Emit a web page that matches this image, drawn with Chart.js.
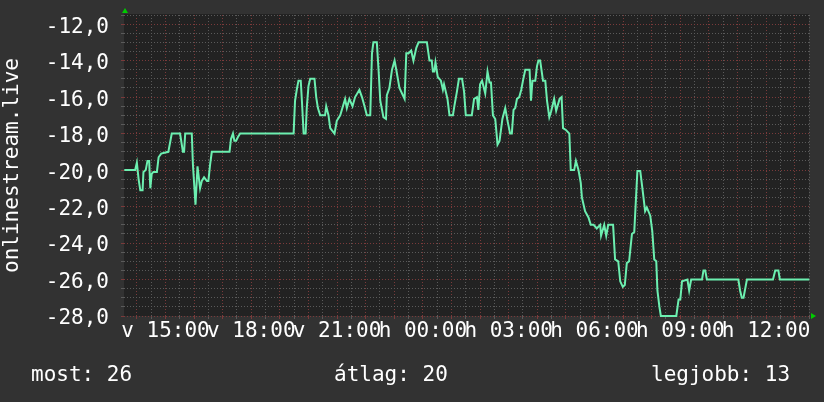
<!DOCTYPE html>
<html>
<head>
<meta charset="utf-8">
<script src="https://cdn.jsdelivr.net/npm/chart.js@4/dist/chart.umd.min.js"></script>
<style>
html, body { margin: 0; padding: 0; background: #323232; }
#wrap { position: relative; width: 824px; height: 402px; }
.stat { position: absolute; top: 364px; font: 21px/21px "DejaVu Sans Mono", monospace; color: #fff; white-space: pre; }
</style>
</head>
<body>
<div id="wrap">
  <canvas id="rank-chart" width="824" height="402"></canvas>
  <div class="stat" style="left:31px">most: 26</div>
  <div class="stat" style="left:334px">átlag: 20</div>
  <div class="stat" style="left:651px">legjobb: 13</div>
</div>
<script>
// Time is in hours counted from Sunday 00:00 (24 = Monday 00:00)
var times = [
  13.56, 13.94, 14.00, 14.06, 14.12, 14.20, 14.23, 14.31, 14.37, 14.43,
  14.47, 14.52, 14.58, 14.70, 14.76, 14.85, 15.10, 15.16, 15.22, 15.51,
  15.61, 15.65, 15.69, 15.92, 15.96, 16.05, 16.12, 16.21, 16.27, 16.35,
  16.45, 16.50, 16.56, 16.62, 17.24, 17.29, 17.36, 17.41, 17.47, 17.53,
  17.61, 19.48, 19.53, 19.59, 19.65, 19.73, 19.77, 19.83, 19.90, 19.94,
  20.00, 20.06, 20.21, 20.27, 20.33, 20.41, 20.58, 20.62, 20.70, 20.76,
  20.91, 20.99, 21.11, 21.28, 21.34, 21.43, 21.54, 21.63, 21.78, 21.87,
  21.96, 22.04, 22.16, 22.22, 22.27, 22.39, 22.45, 22.51, 22.62, 22.71,
  22.74, 22.83, 22.92, 23.01, 23.07, 23.18, 23.36, 23.42, 23.50, 23.59,
  23.67, 23.77, 23.85, 24.14, 24.23, 24.31, 24.35, 24.40, 24.44, 24.52,
  24.63, 24.70, 24.74, 24.86, 24.93, 25.05, 25.10, 25.19, 25.26, 25.37,
  25.44, 25.50, 25.71, 25.79, 25.89, 25.94, 26.00, 26.07, 26.18, 26.26,
  26.33, 26.38, 26.45, 26.53, 26.61, 26.68, 26.78, 26.88, 26.96, 27.05,
  27.11, 27.17, 27.23, 27.29, 27.37, 27.44, 27.50, 27.58, 27.73, 27.78,
  27.83, 27.93, 27.99, 28.04, 28.10, 28.20, 28.28, 28.34, 28.42, 28.48,
  28.59, 28.66, 28.78, 28.85, 28.90, 29.00, 29.12, 29.17, 29.29, 29.35,
  29.44, 29.52, 29.56, 29.67, 29.79, 29.87, 29.97, 30.08, 30.20, 30.23,
  30.34, 30.41, 30.48, 30.65, 30.72, 30.83, 30.90, 30.99, 31.06, 31.13,
  31.21, 31.31, 31.39, 31.50, 31.60, 31.69, 31.77, 31.83, 31.95, 32.02,
  32.09, 32.16, 32.20, 32.27, 32.32, 32.86, 32.94, 33.00, 33.06, 33.25,
  33.31, 33.38, 33.76, 33.81, 33.87, 33.93, 35.03, 35.09, 35.15, 35.21,
  35.33, 36.24, 36.32, 36.43, 36.48, 37.51
]
var ranks = [
  -20, -20, -19.6, -20.5, -21.1, -21.1, -20.1, -20, -19.5, -19.5,
  -21, -20.2, -20.1, -20.1, -19.3, -19.1, -19, -18.5, -18, -18,
  -19, -19, -18, -18, -19.7, -21.9, -19.8, -21, -20.6, -20.4,
  -20.6, -20.6, -19.7, -19, -19, -18.3, -18, -18.4, -18.4, -18.2,
  -18, -18, -16.2, -15.6, -15.1, -15.1, -16.2, -18, -18, -16.6,
  -15.4, -15, -15, -16, -16.6, -17, -17, -16.5, -17, -17.7,
  -18, -17.3, -17, -16.1, -16.6, -16.1, -16.5, -16, -15.6, -16,
  -16.5, -17, -17, -13.6, -13, -13, -14.5, -16.2, -17.1, -17.2,
  -15.9, -15.5, -14.5, -14, -14.5, -15.5, -16.1, -13.6, -13.6, -13.45,
  -14, -13.3, -13, -13, -14, -14, -14.6, -14.6, -14.1, -14.9,
  -15.1, -15.6, -15.3, -16.1, -17, -17, -16.5, -15.7, -15, -15,
  -15.7, -17, -17, -16.1, -16, -16.7, -15.3, -15.1, -15.8, -14.6,
  -15.2, -15.2, -17, -17.2, -18.6, -18.4, -17.2, -16.6, -17.3, -18,
  -18, -16.7, -16.6, -16.1, -16, -15.6, -15.1, -14.5, -14.5, -16.2,
  -15.1, -15.1, -14.3, -14, -14, -15.1, -15.1, -16.2, -17.1, -16.8,
  -16.1, -16.75, -16.1, -16, -17.7, -17.8, -18, -20, -20, -19.5,
  -20, -20.7, -21.5, -22.25, -22.6, -23, -23, -23.2, -23, -23.6,
  -23, -23.6, -23, -23, -24.9, -25, -26.1, -26.4, -26.3, -25.1,
  -25, -23.5, -23.4, -20.05, -20.05, -21.2, -22.25, -22.05, -22.5, -23.35,
  -24.9, -25, -26.6, -27.5, -28, -28, -27.1, -27.1, -26.1, -26,
  -26.6, -26, -26, -25.5, -25.5, -26, -26, -26.6, -27, -27,
  -26, -26, -25.5, -25.5, -26, -26
]

var xMajorTicks = [15, 18, 21, 24, 27, 30, 33, 36]
var xTickLabels = ["v 15:00", "v 18:00", "v 21:00", "h 00:00", "h 03:00", "h 06:00", "h 09:00", "h 12:00"]
var yMajorTicks = [-28, -26, -24, -22, -20, -18, -16, -14, -12]
var yTickLabels = ["-28,0", "-26,0", "-24,0", "-22,0", "-20,0", "-18,0", "-16,0", "-14,0", "-12,0"]

var xMin = 13.55, xMax = 37.5
var yMin = -28, yMax = -11.5

var minorGrid = "#5a5a5a"
var majorGrid = "#7a3a3a"
var tickFont = { family: "DejaVu Sans Mono", size: 21 }

// half-step grid for both axes, major lines get the red colour
function gridTicks(from, to) {
    var list = []
    for (var v = Math.ceil(from * 2) / 2; v <= to + 1e-9; v += 0.5) list.push({ value: v })
    return list
}

// keep the plot box where the reference has it
function noPadding(scale) {
    scale.paddingTop = 0
    scale.paddingBottom = 0
    scale.paddingLeft = 0
    scale.paddingRight = 0
}

var plotBackground = {
    id: "plotBackground",
    beforeDraw(chart) {
        var a = chart.chartArea
        chart.ctx.save()
        chart.ctx.fillStyle = "#222222"
        chart.ctx.fillRect(a.left, a.top - 1, a.right - a.left, a.bottom - a.top + 1)
        chart.ctx.restore()
    }
}

// little green arrows at the ends of the axes
var axisArrows = {
    id: "axisArrows",
    afterDraw(chart) {
        var a = chart.chartArea
        var ctx = chart.ctx
        ctx.save()
        ctx.fillStyle = "#00cc00"
        ctx.beginPath()
        ctx.moveTo(a.left + 1, a.top - 7)
        ctx.lineTo(a.left + 4, a.top - 2)
        ctx.lineTo(a.left - 2, a.top - 2)
        ctx.closePath()
        ctx.fill()
        ctx.beginPath()
        ctx.moveTo(a.right + 7, a.bottom)
        ctx.lineTo(a.right + 2, a.bottom - 3)
        ctx.lineTo(a.right + 2, a.bottom + 3)
        ctx.closePath()
        ctx.fill()
        ctx.restore()
    }
}

function createChart() {
    var points = times.map(function (t, i) { return { x: t, y: ranks[i] } })

    new Chart("rank-chart", {
        type: "line",
        data: {
            datasets: [{
                data: points,
                borderColor: "#6cefb0",
                borderWidth: 2,
                pointRadius: 0,
                tension: 0,
                clip: 4
            }]
        },
        options: {
            responsive: false,
            animation: false,
            layout: { padding: { top: 15, right: 15, left: 0, bottom: 0 } },
            plugins: { legend: { display: false }, tooltip: { enabled: false } },
            scales: {
                x: {
                    type: "linear",
                    min: xMin,
                    max: xMax,
                    afterBuildTicks: function (scale) { scale.ticks = gridTicks(xMin, xMax) },
                    afterFit: function (scale) { scale.height = 86; noPadding(scale) },
                    grid: {
                        color: function (c) { return c.tick && Number.isInteger(c.tick.value) ? majorGrid : minorGrid },
                        tickLength: 3
                    },
                    border: { display: false, dash: [1, 2] },
                    ticks: {
                        autoSkip: false,
                        maxRotation: 0,
                        minRotation: 0,
                        padding: 0,
                        color: "#ffffff",
                        font: tickFont,
                        callback: function (value) {
                            var i = xMajorTicks.indexOf(value)
                            return i >= 0 ? xTickLabels[i] : ""
                        }
                    }
                },
                y: {
                    min: yMin,
                    max: yMax,
                    afterBuildTicks: function (scale) { scale.ticks = gridTicks(yMin, yMax) },
                    afterFit: function (scale) { scale.width = 124; noPadding(scale) },
                    grid: {
                        color: function (c) { return c.tick && c.tick.value % 2 === 0 ? majorGrid : minorGrid },
                        tickLength: 3
                    },
                    border: { display: false, dash: [1, 2] },
                    title: {
                        display: true,
                        text: "onlinestream.live",
                        color: "#ffffff",
                        font: tickFont,
                        padding: { top: 0, bottom: 0 }
                    },
                    ticks: {
                        autoSkip: false,
                        padding: 12,
                        labelOffset: 3,
                        color: "#ffffff",
                        font: tickFont,
                        callback: function (value) {
                            var i = yMajorTicks.indexOf(value)
                            return i >= 0 ? yTickLabels[i] : ""
                        }
                    }
                }
            }
        },
        plugins: [plotBackground, axisArrows]
    })
}

createChart()
</script>
</body>
</html>
